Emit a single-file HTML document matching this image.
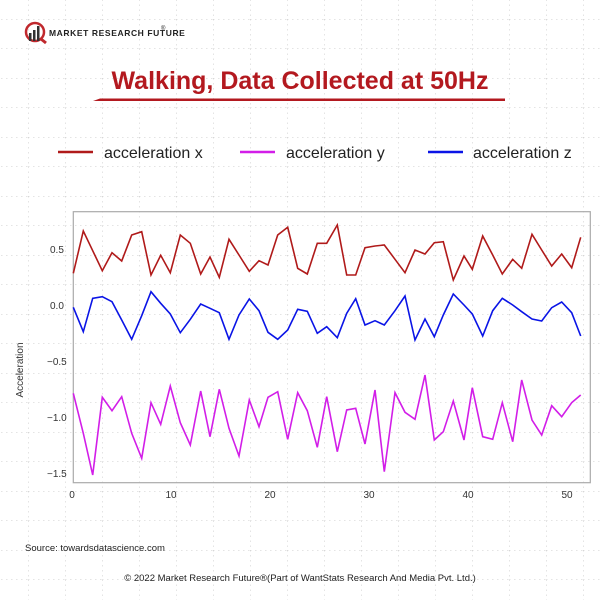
<!DOCTYPE html>
<html><head><meta charset="utf-8"><style>
body{margin:0;width:600px;height:600px;overflow:hidden;background:#fff;font-family:"Liberation Sans",sans-serif;}
</style></head><body>
<svg id="s" width="600" height="600" xmlns="http://www.w3.org/2000/svg">
<defs>
<pattern id="g" x="-9" y="19" width="37" height="29.5" patternUnits="userSpaceOnUse">
<line x1="0" y1="0" x2="37" y2="0" stroke="#c8c8c8" stroke-width="1" stroke-dasharray="1.5,3.5"/>
<line x1="0" y1="0" x2="0" y2="29.5" stroke="#c8c8c8" stroke-width="1" stroke-dasharray="1.5,3.5"/>
</pattern>
</defs>
<rect width="600" height="600" fill="url(#g)"/>
<circle cx="35" cy="32" r="9" fill="none" stroke="#c0282d" stroke-width="2.5"/>
<line x1="41" y1="39" x2="46" y2="43" stroke="#c0282d" stroke-width="3"/>
<rect x="29" y="33" width="2.5" height="8" fill="#333"/><rect x="33" y="30" width="2.5" height="11" fill="#333"/><rect x="37" y="26" width="2.5" height="15" fill="#333"/>
<text x="49" y="36" font-size="8.5" font-weight="bold" fill="#222" letter-spacing="0.6">MARKET RESEARCH FUTURE</text>
<text x="161" y="30" font-size="6" fill="#222">®</text>
<text x="300" y="89" text-anchor="middle" font-size="25" font-weight="bold" fill="#b3191f">Walking, Data Collected at 50Hz</text>
<polygon points="93,101 100,98.5 505,98.5 505,101" fill="#b3191f"/>
<line x1="58" y1="152" x2="93" y2="152" stroke="#b01a1a" stroke-width="2.5"/>
<text x="104" y="158" font-size="16" fill="#222">acceleration x</text>
<line x1="240" y1="152" x2="275" y2="152" stroke="#d21ee8" stroke-width="2.5"/>
<text x="286" y="158" font-size="16" fill="#222">acceleration y</text>
<line x1="428" y1="152" x2="463" y2="152" stroke="#0a14e6" stroke-width="2.5"/>
<text x="473" y="158" font-size="16" fill="#222">acceleration z</text>
<rect x="73.3" y="211.7" width="517" height="271" fill="none" stroke="#aaa" stroke-width="1.2"/>
<g font-size="10" fill="#333">
<text x="50" y="253">0.5</text><text x="50" y="309">0.0</text><text x="47" y="365">−0.5</text><text x="47" y="421">−1.0</text><text x="47" y="477">−1.5</text>
<text x="72" y="498" text-anchor="middle">0</text><text x="171" y="498" text-anchor="middle">10</text><text x="270" y="498" text-anchor="middle">20</text><text x="369" y="498" text-anchor="middle">30</text><text x="468" y="498" text-anchor="middle">40</text><text x="567" y="498" text-anchor="middle">50</text>
</g>
<text transform="translate(23,370) rotate(-90)" text-anchor="middle" font-size="10" fill="#333">Acceleration</text>
<g id="lines" fill="none" stroke-width="1.6" stroke-linejoin="miter"></g>
<text x="25" y="551" font-size="9.5" fill="#222">Source: towardsdatascience.com</text>
<text x="300" y="581" text-anchor="middle" font-size="9.5" fill="#222">© 2022 Market Research Future®(Part of WantStats Research And Media Pvt. Ltd.)</text>
</svg>
<script>
var z1x=[40,70,98,127,156,185,215,245,273,302,331,361,391,422,450,478,507,537,568,597,624,653,683,713,742,772];
var z2x=[0,20,52,80,107,135,165,193,225,255,285,315,343,370,400,432,457,488,518,547,578,605,636,665,695,725,755,782];
var d={
'#b01a1a':[[220,93,152,212,158,183,105,95,225,166,218,105,130,222,171,232,118,165,214,182,195,105,82,205,222,130],
 [130,130,75,225,225,143,138,135,178,218,150,162,128,125,240,168,208,108,165,222,178,205,103,150,198,162,203,112]],
'#d21ee8':[[580,700,825,592,632,590,700,775,608,673,558,668,735,573,710,568,685,768,600,680,592,575,718,578,632,742],
 [695,590,755,630,625,732,570,815,578,637,658,525,720,695,603,720,563,710,718,608,725,540,660,705,617,650,608,585]],
'#0a14e6':[[322,395,295,290,305,360,418,347,275,310,342,398,358,312,325,338,418,345,297,332,397,418,390,328,334,400],
 [395,380,413,340,296,375,362,375,332,288,420,357,410,345,282,315,342,408,332,295,315,335,357,363,323,306,338,408]]};
var g=document.getElementById('lines'),h='';
for(var c in d){var p=[];
 d[c][0].forEach(function(y,i){p.push((60+z1x[i]/3).toFixed(1)+','+(200+y/3).toFixed(1));});
 d[c][1].forEach(function(y,i){if(i>0)p.push((320+z2x[i]/3).toFixed(1)+','+(200+y/3).toFixed(1));});
 h+='<polyline stroke="'+c+'" points="'+p.join(' ')+'"/>';}
g.innerHTML=h;
</script>
</body></html>
